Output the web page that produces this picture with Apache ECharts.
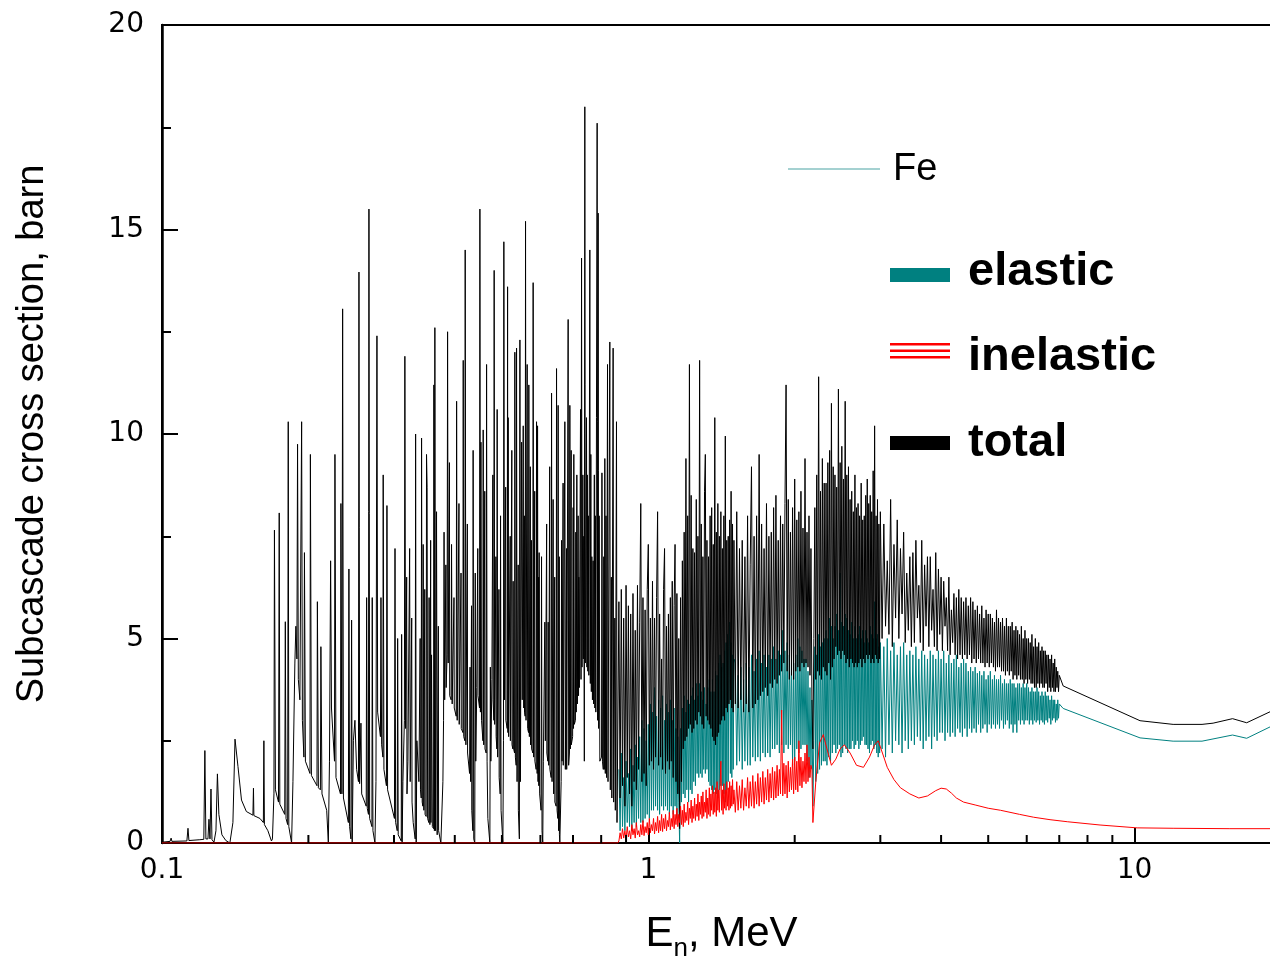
<!DOCTYPE html>
<html><head><meta charset="utf-8">
<script src="https://cdn.jsdelivr.net/npm/echarts/dist/echarts.min.js"></script>
<style>html,body{margin:0;padding:0;background:#fff;}#c{width:1270px;height:959px;}</style>
</head><body><div id="c"></div>
<script>
// ---- axis definitions ----
const xMin = 0.1, xMax = 20;
const yMin = 0, yMax = 20, yStep = 5;
const xTickLabels = {"0.1": "0.1", "1": "1", "10": "10"};
const xMinorTicks = [0.2,0.3,0.4,0.5,0.6,0.7,0.8,0.9,2,3,4,5,6,7,8,9];

// ---- total cross section, resolved-resonance region (E MeV, sigma barn) ----
const totalResonances = [[0.1000,0.02],[0.1039,0.04],[0.1044,0.12],[0.1048,0.04],[0.1125,0.05],[0.1131,0.36],[0.1136,0.06],[0.1196,0.08],[0.1219,0.09],[0.1225,2.26],[0.1231,0.10],[0.1243,0.10],[0.1249,0.58],[0.1255,0.10],[0.1261,1.32],[0.1267,0.08],[0.1279,0.02],[0.1291,0.30],[0.1300,1.69],[0.1309,0.70],[0.1328,0.20],[0.1353,0.06],[0.1379,0.00],[0.1399,0.50],[0.1413,2.54],[0.1433,1.87],[0.1457,1.05],[0.1491,0.77],[0.1538,0.68],[0.1542,1.34],[0.1545,0.67],[0.1590,0.60],[0.1616,0.50],[0.1620,2.50],[0.1624,0.45],[0.1651,0.30],[0.1679,0.05],[0.1687,0.10],[0.1699,1.20],[0.1703,7.65],[0.1711,1.30],[0.1736,1.00],[0.1742,8.07],[0.1747,0.95],[0.1788,0.70],[0.1793,5.41],[0.1799,0.60],[0.1813,0.45],[0.1818,10.3],[0.1823,0.40],[0.1847,0.00],[0.1859,1.50],[0.1876,4.40],[0.1885,5.30],[0.1894,4.50],[0.1900,9.75],[0.1907,4.00],[0.1921,3.50],[0.1937,10.3],[0.1944,3.00],[0.1958,2.10],[0.1963,7.10],[0.1972,2.00],[0.2015,1.70],[0.2019,9.50],[0.2029,1.65],[0.2083,1.40],[0.2087,5.90],[0.2097,1.35],[0.2117,1.30],[0.2122,4.80],[0.2133,1.20],[0.2181,0.80],[0.2198,0.00],[0.2210,2.00],[0.2222,6.90],[0.2231,3.30],[0.2263,2.00],[0.2268,9.50],[0.2279,1.60],[0.2328,1.20],[0.2333,8.30],[0.2344,1.20],[0.2352,13.06],[0.2361,1.10],[0.2417,0.50],[0.2423,6.70],[0.2431,0.40],[0.2446,0.10],[0.2454,5.45],[0.2461,0.00],[0.2475,2.50],[0.2493,3.00],[0.2513,1.80],[0.2535,1.50],[0.2541,13.96],[0.2549,1.45],[0.2565,2.93],[0.2574,1.20],[0.2630,0.90],[0.2635,6.00],[0.2643,0.85],[0.2658,0.70],[0.2664,15.5],[0.2673,0.60],[0.2702,0.40],[0.2706,6.00],[0.2715,0.30],[0.2741,0.00],[0.2754,1.50],[0.2767,12.4],[0.2776,3.20],[0.2813,2.60],[0.2820,6.00],[0.2829,2.40],[0.2846,2.10],[0.2850,9.00],[0.2860,1.80],[0.2894,1.40],[0.2901,8.25],[0.2910,1.30],[0.3006,0.60],[0.3014,7.20],[0.3023,0.50],[0.3046,0.30],[0.3052,5.00],[0.3060,0.20],[0.3104,0.05],[0.3110,5.10],[0.3117,0.00],[0.3129,1.50],[0.3151,3.00],[0.3158,11.9],[0.3169,2.80],[0.3204,2.00],[0.3230,7.20],[0.3239,1.50],[0.3285,0.50],[0.3316,0.10],[0.3323,10.0],[0.3332,0.00],
[0.3343,2.50],[0.3375,1.50],[0.3412,1.10],[0.3418,9.90],[0.3428,1.00],[0.3439,0.90],[0.3444,7.30],[0.3455,0.80],[0.3493,0.65],[0.3499,9.50],[0.3509,8.70],[0.3517,0.60],[0.3537,0.50],[0.3542,6.00],[0.3555,0.45],[0.3583,4.60],[0.3597,0.40],[0.3618,0.35],[0.3623,11.2],[0.3632,0.30],[0.3640,12.6],[0.3652,0.30],[0.3669,8.10],[0.3680,0.20],[0.3745,0.00],
[0.3781,1.50],[0.3793,3.00],[0.3802,7.60],[0.3813,3.50],[0.3857,4.60],[0.3866,12.5],[0.3877,4.40],[0.3932,3.50],[0.3939,7.30],[0.3951,3.40],[0.4027,3.10],[0.4035,10.8],[0.4046,3.00],[0.4157,2.70],[0.4163,11.8],[0.4173,2.60],[0.4196,2.50],[0.4202,14.5],[0.4216,2.40],[0.4290,1.70],[0.4300,4.30],[0.4312,1.50],[0.4357,0.30],[0.4363,9.60],[0.4376,0.10],[0.4397,0.00],
[0.4407,6.60],[0.4418,2.00],[0.4439,3.80],[0.4497,3.30],[0.4505,15.5],[0.4516,3.20],[0.4527,9.80],[0.4540,3.00],[0.4570,2.50],[0.4576,10.1],[0.4587,2.40],[0.4641,2.20],[0.4650,11.7],[0.4661,2.00],[0.4678,0.60],[0.4723,0.00],
[0.4734,4.30],[0.4745,2.00],[0.4768,4.00],[0.4813,3.00],[0.4820,14.0],[0.4831,2.90],[0.4882,2.30],[0.4889,10.6],[0.4900,2.10],[0.4959,1.20],[0.4968,8.00],[0.4980,0.80],[0.5023,0.00],
[0.5037,2.50],[0.5046,14.7],[0.5061,3.50],[0.5126,2.80],[0.5136,13.6],[0.5143,2.70],[0.5150,10.4],[0.5162,2.60],[0.5266,2.30],[0.5273,6.40],[0.5286,2.30],[0.5309,2.20],[0.5316,12.0],[0.5329,2.10],[0.5349,1.90],[0.5359,12.1],[0.5372,1.50],[0.5431,0.10],
[0.5445,12.3],[0.5458,1.50],[0.5489,9.80],[0.5505,3.50],[0.5531,10.2],[0.5544,3.30],[0.5581,3.10],[0.5592,15.2],[0.5605,3.00],[0.5635,11.7],[0.5648,2.80],[0.5672,2.70],[0.5680,11.2],[0.5694,2.60],[0.5789,2.20],[0.5797,13.7],[0.5811,2.10],[0.5880,1.80],[0.5891,10.3],[0.5908,1.70],[0.5919,10.2],[0.5933,1.50],[0.5964,7.10],[0.5978,1.20],[0.6018,0.80],[0.6032,7.00],[0.6046,0.30],[0.6067,0.00],
[0.6084,2.00],[0.6127,5.40],[0.6142,2.50],[0.6215,2.00],[0.6224,5.40],[0.6239,1.90],[0.6313,1.60],[0.6325,11.0],[0.6340,1.50],[0.6373,8.40],[0.6388,1.20],[0.6464,0.90],[0.6476,11.6],[0.6492,0.80],[0.6516,0.60],[0.6525,10.7],[0.6541,0.30],[0.6578,0.00],
[0.6619,1.50],[0.6632,7.40],[0.6647,2.00],[0.6723,1.90],[0.6736,10.3],[0.6752,1.80],[0.6826,1.80],[0.6842,12.8],[0.6858,1.90],[0.6884,2.20],[0.6897,10.7],[0.6914,2.30],[0.6988,2.60],[0.7005,8.20],[0.7018,2.80],[0.7028,9.50],[0.7045,2.90],[0.7082,3.00],[0.7095,7.60],[0.7109,3.20],[0.7129,9.00],[0.7146,3.40],[0.7173,8.00],[0.7187,3.60],[0.7197,6.50],[0.7214,3.80],[0.7255,10.6],[0.7272,4.00],[0.7290,14.3],[0.7307,4.30],[0.7335,9.00],[0.7352,4.50],[0.7369,7.50],[0.7387,2.00],[0.7404,18.0],[0.7422,4.40],[0.7464,10.4],[0.7478,4.30],[0.7492,9.00],[0.7510,4.20],[0.7528,8.00],[0.7546,4.10],[0.7582,14.5],[0.7600,3.90],[0.7618,9.50],[0.7636,3.70],[0.7654,7.00],[0.7676,3.50],[0.7701,6.90],[0.7719,3.40],[0.7745,9.00],[0.7764,3.30],[0.7782,8.00],[0.7800,3.20],[0.7849,17.6],[0.7867,3.00],[0.7886,15.4],[0.7905,2.80],[0.7924,8.00],[0.7950,2.00],
[0.8014,2.10],[0.8029,9.05],[0.8048,2.00],[0.8081,1.80],[0.8100,7.00],[0.8120,1.80],[0.8139,9.40],[0.8158,1.70],[0.8185,8.00],[0.8205,1.60],[0.8244,11.7],[0.8263,1.50],[0.8334,12.25],[0.8354,1.30],[0.8394,6.50],[0.8414,1.10],[0.8466,12.1],[0.8486,1.00],[0.8534,5.50],[0.8554,0.80],[0.8602,10.3],[0.8623,0.50]];

// ---- additional mid-height resonances of the total (peak, then return point) ----
const totalExtraResonances = [
[0.3185,6.5],[0.3190,1.2],[0.3262,5.5],[0.3267,1.0],[0.3395,5.0],[0.3400,1.3],[0.3470,6.2],[0.3475,0.7],
[0.3568,7.4],[0.3573,0.5],[0.3700,5.3],[0.3705,0.3],[0.3835,6.8],[0.3840,3.8],[0.3900,9.3],[0.3905,3.6],
[0.3985,6.0],[0.3990,3.3],[0.4080,8.3],[0.4085,2.9],[0.4120,6.6],[0.4125,2.8],[0.4245,7.8],[0.4250,2.2],
[0.4330,5.8],[0.4335,0.8],[0.4460,7.2],[0.4465,3.6],[0.4610,8.6],[0.4615,2.3],[0.4790,9.0],[0.4795,3.5],
[0.4860,7.0],[0.4865,2.6],[0.4930,6.2],[0.4935,1.6],[0.5090,8.7],[0.5095,3.0],[0.5200,7.5],[0.5205,2.5],
[0.5240,9.6],[0.5245,2.4],[0.5400,6.8],[0.5405,0.8],[0.5560,8.0],[0.5565,3.2],[0.5720,9.2],[0.5725,2.4],
[0.5750,7.4],[0.5755,2.3],[0.5840,8.6],[0.5845,2.0],[0.5950,6.5],[0.5955,1.4],[0.6180,7.8],[0.6185,2.2],
[0.6270,9.2],[0.6275,1.8],[0.6420,6.5],[0.6425,1.0],[0.6560,7.0],[0.6565,0.2],[0.6680,8.8],[0.6685,1.9],
[0.6790,7.2],[0.6795,1.8],[0.6940,9.6],[0.6945,2.4]];

// ---- sampling energies of the dense (unresolved) region, MeV ----
const denseE = [
0.870,0.875,0.880,0.885,0.890,0.895,0.900,0.905,0.910,0.915,
0.920,0.925,0.930,0.935,0.940,0.945,0.950,0.955,0.960,0.965,
0.970,0.975,0.980,0.985,0.990,0.995,1.000,1.005,1.010,1.015,
1.020,1.025,1.030,1.035,1.040,1.045,1.050,1.055,1.060,1.065,
1.070,1.075,1.080,1.085,1.090,1.095,1.100,1.105,1.110,1.115,
1.120,1.125,1.130,1.135,1.140,1.145,1.150,1.155,1.160,1.165,
1.170,1.175,1.180,1.185,1.190,1.195,1.200,1.205,1.210,1.215,
1.220,1.225,1.230,1.235,1.240,1.245,1.250,1.255,1.260,1.265,
1.270,1.275,1.280,1.285,1.290,1.295,1.300,1.305,1.310,1.315,
1.320,1.325,1.330,1.335,1.340,1.345,1.350,1.355,1.360,1.365,
1.370,1.375,1.380,1.385,1.390,1.395,1.400,1.405,1.410,1.415,
1.420,1.425,1.430,1.435,1.440,1.445,1.450,1.455,1.460,1.465,
1.470,1.475,1.480,1.485,1.490,1.495,1.500,
1.51,1.52,1.53,1.54,1.55,1.56,1.57,1.58,1.59,1.60,
1.61,1.62,1.63,1.64,1.65,1.66,1.67,1.68,1.69,1.70,
1.71,1.72,1.73,1.74,1.75,1.76,1.77,1.78,1.79,1.80,
1.81,1.82,1.83,1.84,1.85,1.86,1.87,1.88,1.89,1.90,
1.91,1.92,1.93,1.94,1.95,1.96,1.97,1.98,1.99,2.00,
2.01,2.02,2.03,2.04,2.05,2.06,2.07,2.08,2.09,2.10,
2.11,2.12,2.13,2.14,2.15,2.16,2.17,2.18,2.19,2.20,
2.21,2.22,2.23,2.24,2.25,2.26,2.27,2.28,2.29,2.30,
2.31,2.32,2.33,2.34,2.35,2.36,2.37,2.38,2.39,2.40,
2.41,2.42,2.43,2.44,2.45,2.46,2.47,2.48,2.49,2.50,
2.51,2.52,2.53,2.54,2.55,2.56,2.57,2.58,2.59,2.60,
2.61,2.62,2.63,2.64,2.65,2.66,2.67,2.68,2.69,2.70,
2.71,2.72,2.73,2.74,2.75,2.76,2.77,2.78,2.79,2.80,
2.81,2.82,2.83,2.84,2.85,2.86,2.87,2.88,2.89,2.90,
2.91,2.92,2.93,2.94,2.95,2.96,2.97,2.98,2.99,3.00,
3.025,3.050,3.075,3.100,3.125,3.150,3.175,3.200,3.225,3.250,
3.275,3.300,3.325,3.350,3.375,3.400,3.425,3.450,3.475,3.500,
3.525,3.550,3.575,3.600,3.625,3.650,3.675,3.700,3.725,3.750,
3.775,3.800,3.825,3.850,3.875,3.900,3.925,3.950,3.975,4.000,
4.025,4.050,4.075,4.100,4.125,4.150,4.175,4.200,4.225,4.250,
4.275,4.300,4.325,4.350,4.375,4.400,4.425,4.450,4.475,4.500,
4.525,4.550,4.575,4.600,4.625,4.650,4.675,4.700,4.725,4.750,
4.775,4.800,4.825,4.850,4.875,4.900,4.925,4.950,4.975,5.000,
5.025,5.050,5.075,5.100,5.125,5.150,5.175,5.200,5.225,5.250,
5.275,5.300,5.325,5.350,5.375,5.400,5.425,5.450,5.475,5.500,
5.525,5.550,5.575,5.600,5.625,5.650,5.675,5.700,5.725,5.750,
5.775,5.800,5.825,5.850,5.875,5.900,5.925,5.950,5.975,6.000,
6.025,6.050,6.075,6.100,6.125,6.150,6.175,6.200,6.225,6.250,
6.275,6.300,6.325,6.350,6.375,6.400,6.425,6.450,6.475,6.500,
6.525,6.550,6.575,6.600,6.625,6.650,6.675,6.700,6.725,6.750,
6.775,6.800,6.825,6.850,6.875,6.900,6.925,6.950,6.975,7.000];

// ---- total cross section at denseE, barn ----
const totalDense = [
5.9,1.1,6.2,1.4,5.5,0.9,6.3,1.6,5.8,1.2,
5.6,0.9,6.1,1.5,5.2,1.3,6.3,1.8,5.4,8.3,
1.5,6.0,1.7,5.7,1.4,6.2,7.3,1.9,5.5,2.0,
6.4,1.8,5.5,2.1,6.0,8.1,1.9,5.6,2.1,4.5,
1.8,6.2,7.2,1.7,5.3,2.0,5.6,1.8,6.0,2.0,
6.4,1.6,5.8,7.3,1.5,6.1,1.2,5.0,0.35,6.0,
1.5,6.9,2.3,7.6,2.5,9.4,2.6,8.0,2.8,11.7,
2.9,8.5,2.7,7.2,2.8,7.1,3.0,8.4,2.9,7.5,
3.2,11.8,3.1,7.8,2.9,7.0,2.8,8.6,9.5,3.1,
7.4,3.0,7.0,2.9,8.0,2.8,8.2,2.6,7.3,2.5,
10.4,2.4,7.6,2.6,8.3,2.7,7.5,2.9,8.1,3.0,
7.2,3.1,8.0,3.0,9.95,3.3,7.4,3.2,7.5,3.4,
7.9,3.5,8.6,3.3,7.8,3.2,7.4,
3.4,8.1,3.3,7.2,3.5,7.4,3.2,7.0,3.4,8.0,
3.2,6.8,9.2,3.3,7.5,3.4,8.0,3.5,9.5,3.6,
7.8,3.7,7.2,3.8,8.3,3.6,7.5,3.9,7.6,3.8,
8.2,4.0,8.5,3.9,7.4,4.1,8.0,4.2,7.8,4.4,
8.3,11.2,4.2,8.4,4.0,7.6,4.1,8.2,4.0,8.9,
4.2,7.9,4.3,8.1,4.2,8.6,4.4,7.7,4.3,9.4,
4.4,7.6,4.3,8.0,4.1,7.2,3.5,2.3,5.0,8.2,
4.0,9.0,4.2,11.4,4.1,8.6,4.0,9.4,4.3,8.8,
4.2,8.8,4.1,9.3,4.4,9.6,4.0,10.75,4.3,9.2,
4.5,9.0,4.8,8.7,4.6,11.1,4.7,9.3,4.5,9.7,
4.7,8.9,4.6,10.8,4.4,9.0,4.5,9.2,4.3,8.4,
4.5,8.6,4.4,8.1,4.3,9.0,4.4,8.2,4.3,8.3,
4.4,8.0,4.5,8.8,4.3,7.9,4.5,8.0,4.4,8.5,
4.6,8.9,4.5,8.3,4.6,8.5,4.4,8.1,4.5,9.1,
4.4,10.2,4.6,8.0,4.5,8.4,4.4,7.8,4.5,8.1,
5.0,7.8,5.3,6.9,5.1,8.4,4.8,7.3,5.5,7.9,
5.0,7.2,5.6,7.6,4.9,6.6,5.2,7.0,4.8,7.1,
4.9,7.4,5.5,6.3,4.9,7.4,4.7,6.8,5.3,7.0,
4.8,7.0,5.2,6.2,4.8,7.1,4.7,6.7,5.1,6.5,
4.7,6.4,5.3,6.0,4.7,6.5,4.6,5.7,4.9,6.1,
4.6,6.0,4.5,6.2,4.6,6.0,4.5,5.9,4.6,6.0,
4.5,5.8,4.6,6.0,4.4,5.9,4.5,5.7,4.4,5.8,
4.5,5.6,4.4,5.8,4.4,5.5,4.3,5.7,4.4,5.6,
4.3,5.6,4.4,5.5,4.3,5.4,4.2,5.7,4.3,5.5,
4.3,5.4,4.2,5.5,4.2,5.3,4.1,5.5,4.2,5.3,
4.1,5.3,4.2,5.4,4.0,5.2,4.1,5.3,4.0,5.2,
4.1,5.1,4.0,5.3,4.0,5.0,3.9,5.2,4.0,5.0,
3.9,5.0,4.0,4.9,3.9,5.1,3.9,4.8,3.8,5.0,
3.8,4.8,3.9,4.9,3.8,4.7,3.9,4.8,3.8,4.7,
3.8,4.7,3.9,4.6,3.7,4.6,3.8,4.5,3.7,4.6,
3.8,4.4,3.7,4.5,3.7,4.3,3.8,4.2,3.7,4.1];
const totalTail = [[7.13,3.84],[10.26,2.99],[12.0,2.90],[13.76,2.90],[14.5,2.93],[15.9,3.04],[17.0,2.94],[19.0,3.21],[20,3.32]];

// ---- elastic cross section at denseE, barn ----
const elasticDense = [
1.8,0.3,2.2,0.4,1.6,0.3,2.0,0.5,1.7,0.4,
2.3,0.3,1.9,0.5,2.4,0.4,2.1,0.6,2.6,0.5,
3.0,0.5,2.8,0.6,2.5,0.7,2.9,0.6,3.4,0.8,
3.2,0.8,3.8,0.9,3.1,0.8,3.5,0.7,3.3,0.9,
3.6,0.8,3.0,0.9,3.4,0.8,3.2,0.7,3.5,0.9,
3.0,0.7,3.3,0.9,2.8,0.6,2.6,1.0,0.0,2.8,
1.0,3.3,1.2,3.6,1.1,3.2,1.3,3.5,1.0,3.4,
1.3,3.6,1.2,3.8,1.5,3.5,1.4,3.9,1.7,3.6,
1.6,3.9,1.7,3.7,1.6,3.5,1.8,3.8,1.7,3.4,
1.8,3.8,1.5,4.0,1.4,3.7,1.3,4.0,1.2,3.7,
1.3,4.2,1.2,4.1,1.1,4.4,1.3,4.6,1.4,4.3,
1.4,4.4,1.2,4.7,1.0,4.9,1.3,5.1,1.5,4.8,
5.4,1.7,4.9,1.6,4.6,1.8,4.5,
4.4,1.9,4.1,2.0,4.3,1.8,4.0,2.0,4.4,1.9,
4.3,1.9,4.6,2.1,4.2,2.0,4.5,2.1,4.7,2.0,
4.4,2.2,4.6,2.1,4.3,2.2,4.6,2.1,4.5,2.3,
4.8,2.3,4.5,2.4,4.7,2.2,4.6,2.4,5.2,2.2,
4.7,2.4,4.9,2.3,4.6,2.4,4.5,1.9,4.4,2.0,
4.6,2.3,5.0,2.2,4.8,2.3,4.7,2.4,4.5,2.4,
4.5,2.0,4.2,1.6,3.8,1.8,3.5,0.9,2.5,4.8,
1.5,4.6,1.7,5.1,1.8,4.8,1.9,4.9,2.0,5.0,
2.0,5.2,1.9,5.0,2.1,5.5,2.0,5.3,2.2,5.0,
2.4,5.3,2.2,5.6,2.3,5.2,2.4,6.6,2.1,5.4,
2.2,5.3,2.4,5.6,2.3,5.5,2.2,5.2,2.3,5.1,
2.3,5.4,2.5,5.0,2.3,5.3,2.4,5.0,2.5,5.1,
2.3,5.3,2.4,5.0,2.5,5.2,2.6,4.9,2.4,5.2,
2.4,5.0,2.3,4.9,2.2,5.3,2.4,5.1,2.5,5.0,
2.3,5.9,2.4,5.0,2.2,5.1,2.1,4.8,2.2,4.9,
2.3,4.8,2.1,5.0,2.4,4.7,2.2,4.9,2.5,4.6,
2.4,4.8,2.2,4.9,2.5,4.6,2.3,4.7,2.5,4.6,
2.4,4.8,2.6,4.5,2.5,4.7,2.3,4.6,2.5,4.5,
2.6,4.7,2.3,4.6,2.6,4.5,2.5,4.7,2.7,4.5,
2.7,4.7,2.5,4.4,2.7,4.6,2.6,4.4,2.7,4.5,
2.6,4.6,2.8,4.3,2.7,4.4,2.6,4.5,2.8,4.4,
2.6,4.2,2.8,4.3,2.7,4.2,2.8,4.3,2.7,4.15,
2.9,4.2,2.7,4.1,2.8,4.2,2.9,4.0,2.7,4.1,
2.9,4.2,2.8,4.0,2.9,4.1,2.8,4.0,2.9,4.0,
2.8,4.1,3.0,3.9,2.8,4.0,2.9,3.9,3.0,3.9,
2.8,4.0,2.9,3.9,2.7,3.9,2.9,3.8,2.7,3.9,
3.0,3.9,2.9,3.8,3.0,3.9,2.9,3.8,3.0,3.9,
3.0,3.8,2.9,3.7,3.0,3.8,2.9,3.7,3.0,3.7,
2.95,3.8,3.0,3.7,2.9,3.6,3.0,3.7,2.95,3.6,
2.9,3.7,3.0,3.6,2.95,3.6,3.05,3.5,2.9,3.6,
3.0,3.5,3.05,3.5,2.95,3.4,3.0,3.5,3.05,3.4];
const elasticTail = [[7.13,3.29],[10.26,2.57],[12.0,2.49],[13.76,2.49],[15.9,2.64],[17.0,2.56],[19.0,2.84],[20,2.95]];

// ---- inelastic ----
const inelasticBelowThreshold = [[0.1,0],[0.865,0]];
// values at the first denseE points (0.870 ... 2.18 MeV)
const inelasticNoisy = [
0.05,0.25,0.1,0.35,0.12,0.3,0.08,0.4,0.15,0.3,
0.1,0.45,0.2,0.35,0.12,0.5,0.2,0.3,0.15,0.45,
0.2,0.55,0.18,0.4,0.25,0.5,0.2,0.6,0.25,0.45,
0.3,0.6,0.22,0.5,0.3,0.65,0.25,0.55,0.3,0.7,
0.28,0.6,0.35,0.7,0.3,0.55,0.4,0.75,0.32,0.6,
0.4,0.8,0.35,0.7,0.45,0.85,0.4,0.7,0.5,0.9,
0.45,0.8,0.4,0.95,0.5,0.75,0.55,1.0,0.45,0.85,
0.6,1.05,0.5,0.9,0.6,1.1,0.55,0.95,0.65,1.2,
0.55,1.0,0.7,1.15,0.6,1.25,0.65,1.0,0.75,1.3,
0.6,1.1,0.7,1.35,0.65,1.2,0.8,1.4,0.7,1.25,
0.75,1.35,0.65,1.5,0.8,1.3,0.75,1.45,2.0,0.8,
1.3,0.7,1.45,0.85,1.3,0.8,1.5,0.9,1.35,0.8,
1.5,0.85,1.4,0.9,1.55,0.95,1.3,
0.75,1.5,0.8,1.4,0.85,1.55,0.8,1.35,0.9,1.6,
0.85,1.5,0.9,1.65,0.85,1.5,0.95,1.7,0.9,1.6,
1.0,1.75,0.95,1.6,1.05,1.8,1.0,1.7,1.1,1.85,
1.05,1.75,1.1,1.9,1.15,1.8,1.2,3.25,1.15,1.95,
1.2,1.9,1.1,2.0,1.25,1.85,1.3,2.05,1.2,2.1,
1.3,2.0,1.25,2.5,1.4,2.1,1.35,2.0,1.5,2.2,
1.45,2.4,1.5,2.1,1.6,1.9,1.8,0.5];
const inelasticSmooth = [[2.21,1.5],[2.25,2.45],[2.29,2.65],[2.33,2.3],[2.38,1.9],[2.43,2.05],[2.48,2.3],[2.53,2.4],[2.60,2.2],[2.68,1.9],[2.77,1.85],[2.85,2.1],[2.92,2.4],[2.97,2.5],[3.03,2.2],[3.10,1.85],[3.20,1.55],[3.30,1.35],[3.45,1.2],[3.60,1.1],[3.75,1.15],[3.90,1.28],[4.00,1.34],[4.10,1.32],[4.20,1.22],[4.30,1.1],[4.45,1.0],[4.70,0.93],[5.00,0.85],[5.30,0.8],[5.80,0.7],[6.20,0.63],[6.70,0.57],[7.27,0.52],[8.49,0.44],[10.12,0.37],[12.0,0.36],[15.7,0.35],[20,0.35]];

// ---- build series data from the arrays ----
function zip(xs, ys) { const n = Math.min(xs.length, ys.length); const out = []; for (let i = 0; i < n; i++) out.push([xs[i], ys[i]]); return out; }
const resolvedTotal = totalResonances.concat(totalExtraResonances).sort((a, b) => a[0] - b[0]);
const totalData = resolvedTotal.concat(zip(denseE, totalDense), totalTail);
const elasticData = zip(denseE, elasticDense).concat(elasticTail);
const inelasticData = inelasticBelowThreshold.concat(zip(denseE, inelasticNoisy), inelasticSmooth);

const chart = echarts.init(document.getElementById('c'), null, {renderer: 'canvas'});
const lineBase = {type: 'line', showSymbol: false, symbol: 'none', animation: false, silent: true, clip: true};

chart.setOption({
  backgroundColor: '#fff',
  animation: false,
  grid: {left: 162, right: -11, top: 25, bottom: 116, show: true, borderColor: '#000', borderWidth: 2, backgroundColor: 'transparent', containLabel: false, outerBoundsMode: 'none'},
  xAxis: {
    type: 'log', logBase: 10, min: xMin, max: xMax,
    axisLine: {show: true, onZero: false, lineStyle: {color: '#000', width: 2}},
    axisTick: {show: true, inside: true, length: 15, lineStyle: {color: '#000', width: 2}},
    minorTick: {show: false},
    splitLine: {show: false},
    axisLabel: {margin: 14, color: '#000', fontFamily: 'DejaVu Sans', fontSize: 28, showMinLabel: true, showMaxLabel: false,
      formatter: v => { const k = String(+(+v).toPrecision(3)); return xTickLabels[k] || ''; }},
    name: '{a|E}{b|n}{a|, MeV}', nameLocation: 'middle', nameGap: 70,
    nameTextStyle: {rich: {
      a: {fontFamily: 'Liberation Sans', fontSize: 42, color: '#000', lineHeight: 44, verticalAlign: 'top'},
      b: {fontFamily: 'Liberation Sans', fontSize: 26, color: '#000', lineHeight: 26, verticalAlign: 'top', padding: [23, 0, 0, 0]}
    }}
  },
  yAxis: {
    type: 'value', min: yMin, max: yMax, interval: yStep,
    axisLine: {show: true, lineStyle: {color: '#000', width: 2.5}},
    axisTick: {show: true, inside: true, length: 16, lineStyle: {color: '#000', width: 2}},
    minorTick: {show: true, splitNumber: 2, length: 9, lineStyle: {color: '#000', width: 2}},
    splitLine: {show: false},
    axisLabel: {margin: 18, color: '#000', fontFamily: 'DejaVu Sans', fontSize: 28},
    name: 'Subcascade cross section, barn', nameLocation: 'middle', nameGap: 110,
    nameTextStyle: {fontFamily: 'Liberation Sans', fontSize: 38, color: '#000'}
  },
  series: [
    Object.assign({}, lineBase, {name: 'elastic', data: elasticData, z: 2, lineStyle: {color: '#008080', width: 1}}),
    Object.assign({}, lineBase, {name: 'total', data: totalData, z: 3, lineStyle: {color: '#000', width: 1}}),
    Object.assign({}, lineBase, {name: 'inelastic', data: inelasticData, z: 4, lineStyle: {color: '#ff0000', width: 1}}),
    {
      type: 'custom', name: 'minorTicks', z: 5, silent: true, animation: false, clip: false,
      data: xMinorTicks.map(v => [v, 0]),
      encode: {x: 0, y: 1},
      renderItem: (params, api) => {
        const p = api.coord([api.value(0), 0]);
        return {type: 'line', shape: {x1: p[0], y1: p[1], x2: p[0], y2: p[1] - 8}, style: {stroke: '#000', lineWidth: 2}};
      }
    }
  ],
  graphic: [
    {type: 'line', shape: {x1: 788, y1: 169, x2: 880, y2: 169}, style: {stroke: '#4aa3a3', lineWidth: 1}},
    {type: 'text', x: 893, y: 170, style: {text: 'Fe', font: '38px "Liberation Sans"', fill: '#000', textVerticalAlign: 'middle', verticalAlign: 'middle'}},
    {type: 'rect', shape: {x: 890, y: 268, width: 60, height: 14}, style: {fill: '#008080'}},
    {type: 'text', x: 968, y: 272, style: {text: 'elastic', font: 'bold 47px "Liberation Sans"', fill: '#000', textVerticalAlign: 'middle', verticalAlign: 'middle'}},
    {type: 'rect', shape: {x: 890, y: 343, width: 60, height: 2.5}, style: {fill: '#ff0000'}},
    {type: 'rect', shape: {x: 890, y: 349.5, width: 60, height: 2.5}, style: {fill: '#ff0000'}},
    {type: 'rect', shape: {x: 890, y: 356, width: 60, height: 2.5}, style: {fill: '#ff0000'}},
    {type: 'text', x: 968, y: 357, style: {text: 'inelastic', font: 'bold 47px "Liberation Sans"', fill: '#000', textVerticalAlign: 'middle', verticalAlign: 'middle'}},
    {type: 'rect', shape: {x: 890, y: 436, width: 60, height: 14}, style: {fill: '#000'}},
    {type: 'text', x: 968, y: 443, style: {text: 'total', font: 'bold 47px "Liberation Sans"', fill: '#000', textVerticalAlign: 'middle', verticalAlign: 'middle'}}
  ]
});
</script>
</body></html>
